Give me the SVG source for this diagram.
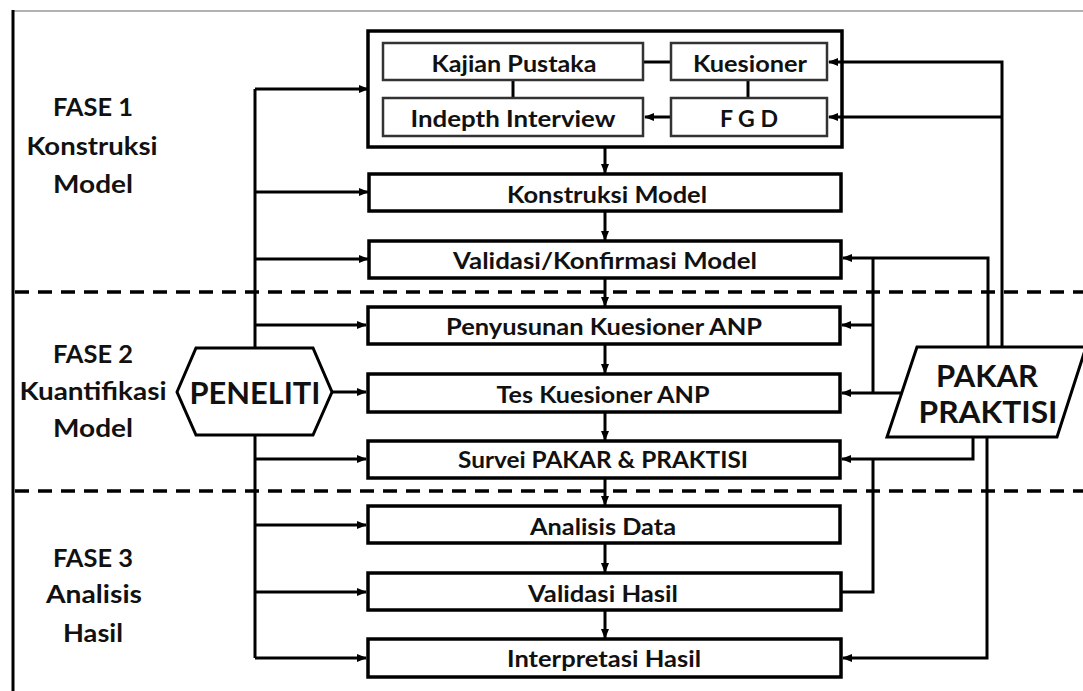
<svg xmlns="http://www.w3.org/2000/svg" width="1083" height="691" viewBox="0 0 1083 691">
<defs>
<marker id="ah" markerUnits="userSpaceOnUse" markerWidth="10" markerHeight="8" refX="9" refY="4" orient="auto">
<path d="M0,0 L10,4 L0,8 Z" fill="#000"/>
</marker>
<style>
.box{fill:#fff;stroke:#000;stroke-width:3.5}
.inner{fill:#fff;stroke:#333;stroke-width:2.5}
.c{fill:none;stroke:#000;stroke-width:3}
.a{fill:none;stroke:#000;stroke-width:3;marker-end:url(#ah)}
.dash{fill:none;stroke:#000;stroke-width:3.5;stroke-dasharray:14 9}
.t{font-family:Lato,"Liberation Sans",sans-serif;font-weight:bold;font-size:23px;fill:#111;text-anchor:middle}
.ph{font-family:Lato,"Liberation Sans",sans-serif;font-weight:bold;font-size:25px;fill:#111;text-anchor:middle}
.big{font-family:Lato,"Liberation Sans",sans-serif;font-weight:bold;font-size:31px;fill:#111;text-anchor:middle}
</style>
</defs>
<rect width="1083" height="691" fill="#fff"/>
<g id="frame">
<line x1="13" y1="11" x2="1083" y2="11" stroke="#999" stroke-width="1.5"/>
<line x1="13" y1="10" x2="13" y2="691" stroke="#000" stroke-width="3"/>
<line class="dash" x1="15" y1="292" x2="1083" y2="292"/>
<line class="dash" x1="15" y1="491" x2="1083" y2="491"/>
</g>
<g id="phases">
<text class="ph" x="93" y="116" textLength="80" lengthAdjust="spacingAndGlyphs">FASE 1</text>
<text class="ph" x="92" y="155" textLength="131" lengthAdjust="spacingAndGlyphs">Konstruksi</text>
<text class="ph" x="93" y="193" textLength="80" lengthAdjust="spacingAndGlyphs">Model</text>
<text class="ph" x="93" y="363" textLength="80" lengthAdjust="spacingAndGlyphs">FASE 2</text>
<text class="ph" x="93" y="400" textLength="147" lengthAdjust="spacingAndGlyphs">Kuantifikasi</text>
<text class="ph" x="93" y="437" textLength="80" lengthAdjust="spacingAndGlyphs">Model</text>
<text class="ph" x="93" y="567" textLength="80" lengthAdjust="spacingAndGlyphs">FASE 3</text>
<text class="ph" x="94" y="603" textLength="96" lengthAdjust="spacingAndGlyphs">Analisis</text>
<text class="ph" x="93" y="642" textLength="60" lengthAdjust="spacingAndGlyphs">Hasil</text>
</g>
<g id="pengumpulan-data">
<rect class="box" x="368" y="31" width="474" height="116"/>
</g>
<g id="connectors">
<!-- peneliti bus -->
<path class="c" d="M255,89 V658"/>
<path class="a" d="M255,89 H368"/>
<path class="a" d="M255,192 H368"/>
<path class="a" d="M255,259 H368"/>
<path class="a" d="M255,325 H366"/>
<path class="a" d="M255,459 H366"/>
<path class="a" d="M255,525 H366"/>
<path class="a" d="M255,592 H366"/>
<path class="a" d="M255,658 H366"/>
<path class="a" d="M332,392 H366"/>
<!-- inner links -->
<path class="c" d="M643,62 H671"/>
<path class="c" d="M513,80 V98"/>
<path class="c" d="M748,80 V98"/>
<path class="a" d="M671,117 H645"/>
<!-- main flow -->
<path class="a" d="M605,147 V173"/>
<path class="a" d="M605,211 V240"/>
<path class="a" d="M605,278 V306"/>
<path class="a" d="M605,344 V373"/>
<path class="a" d="M605,412 V440"/>
<path class="a" d="M605,478 V505"/>
<path class="a" d="M605,543 V572"/>
<path class="a" d="M605,610 V638"/>
<!-- pakar side -->
<path class="a" d="M1002,347 V62 H829"/>
<path class="a" d="M1002,117 H829"/>
<path class="a" d="M988,347 V258 H843"/>
<path class="c" d="M873,258 V393"/>
<path class="a" d="M873,325 H842"/>
<path class="a" d="M905,393 H842"/>
<path class="a" d="M973,437 V459 H842"/>
<path class="c" d="M841,592 H873 V459"/>
<path class="a" d="M987,437 V658 H843"/>
</g>
<g id="peneliti">
<polygon points="177,392 196,348 313,348 332,392 313,435 196,435" fill="#fff" stroke="#000" stroke-width="3"/>
<text class="big" x="255" y="404" textLength="131" lengthAdjust="spacingAndGlyphs">PENELITI</text>
</g>
<g id="pakar-praktisi">
<polygon points="917,347 1086,347 1057,437 887,437" fill="#fff" stroke="#000" stroke-width="3"/>
<text class="big" x="987" y="387" font-size="29" textLength="102" lengthAdjust="spacingAndGlyphs">PAKAR</text>
<text class="big" x="988" y="423" font-size="29" textLength="139" lengthAdjust="spacingAndGlyphs">PRAKTISI</text>
</g>
<g id="kajian-pustaka">
<rect class="inner" x="383" y="43" width="260" height="37"/>
<text class="t" x="514" y="72" textLength="165" lengthAdjust="spacingAndGlyphs">Kajian Pustaka</text>
</g>
<g id="kuesioner">
<rect class="inner" x="671" y="43" width="156" height="37"/>
<text class="t" x="750" y="72" textLength="114" lengthAdjust="spacingAndGlyphs">Kuesioner</text>
</g>
<g id="indepth-interview">
<rect class="inner" x="383" y="98" width="260" height="38"/>
<text class="t" x="513" y="127" textLength="205" lengthAdjust="spacingAndGlyphs">Indepth Interview</text>
</g>
<g id="fgd">
<rect class="inner" x="671" y="98" width="156" height="38"/>
<text class="t" x="749" y="127" textLength="58" lengthAdjust="spacingAndGlyphs">F G D</text>
</g>
<g id="konstruksi-model">
<rect class="box" x="369" y="174" width="472" height="37"/>
<text class="t" x="607" y="203" textLength="200" lengthAdjust="spacingAndGlyphs">Konstruksi Model</text>
</g>
<g id="validasi-konfirmasi">
<rect class="box" x="369" y="241" width="472" height="37"/>
<text class="t" x="605" y="269" textLength="304" lengthAdjust="spacingAndGlyphs">Validasi/Konfirmasi Model</text>
</g>
<g id="penyusunan">
<rect class="box" x="368" y="307" width="472" height="37"/>
<text class="t" x="604" y="335" textLength="316" lengthAdjust="spacingAndGlyphs">Penyusunan Kuesioner ANP</text>
</g>
<g id="tes">
<rect class="box" x="368" y="374" width="472" height="38"/>
<text class="t" x="603" y="403" textLength="213" lengthAdjust="spacingAndGlyphs">Tes Kuesioner ANP</text>
</g>
<g id="survei">
<rect class="box" x="368" y="441" width="472" height="37"/>
<text class="t" x="603" y="468" textLength="290" lengthAdjust="spacingAndGlyphs">Survei PAKAR &amp; PRAKTISI</text>
</g>
<g id="analisis-data">
<rect class="box" x="368" y="506" width="472" height="37"/>
<text class="t" x="603" y="535" textLength="146" lengthAdjust="spacingAndGlyphs">Analisis Data</text>
</g>
<g id="validasi-hasil">
<rect class="box" x="368" y="573" width="473" height="37"/>
<text class="t" x="603" y="602" textLength="150" lengthAdjust="spacingAndGlyphs">Validasi Hasil</text>
</g>
<g id="interpretasi-hasil">
<rect class="box" x="368" y="639" width="473" height="38"/>
<text class="t" x="604" y="667" textLength="194" lengthAdjust="spacingAndGlyphs">Interpretasi Hasil</text>
</g>
</svg>
